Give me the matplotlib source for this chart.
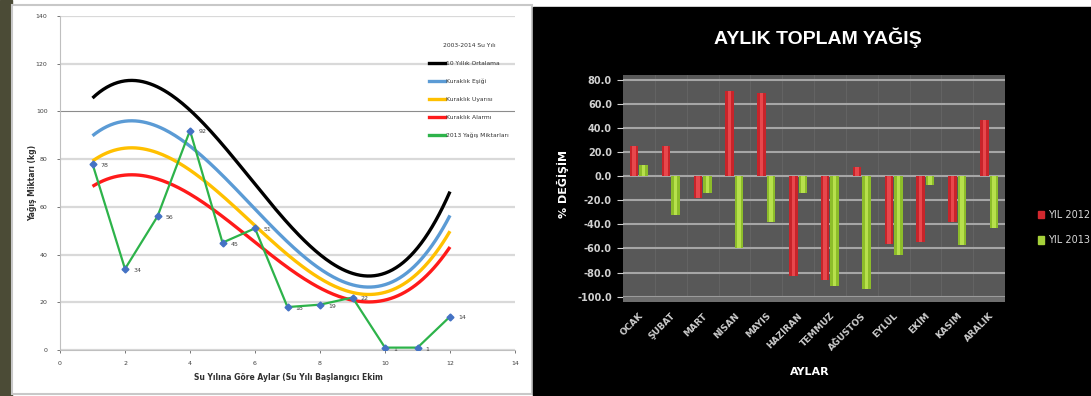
import matplotlib.pyplot as plt
import numpy as np
from matplotlib.patches import Rectangle
from matplotlib.lines import Line2D

# ---- data: left chart (su yili aylari 1..12) ----
aylar_no = [1, 2, 3, 4, 5, 6, 7, 8, 9, 10, 11, 12]
ortalama_10y = [105.6, 112.8, 110.3, 100.5, 86.1, 69.5, 53.3, 40.0, 32.1, 32.2, 42.8, 66.4]
kuraklik_esigi = [89.8, 95.9, 93.8, 85.4, 73.2, 59.1, 45.3, 34.0, 27.3, 27.4, 36.4, 56.4]
kuraklik_uyarisi = [79.2, 84.6, 82.7, 75.4, 64.6, 52.1, 40.0, 30.0, 24.1, 24.2, 32.1, 49.8]
kuraklik_alarmi = [68.6, 73.3, 71.7, 65.3, 56.0, 45.2, 34.6, 26.0, 20.9, 20.9, 27.8, 43.2]
yagis_2013 = [78, 34, 56, 92, 45, 51, 18, 19, 22, 1, 1, 14]

# ---- data: right chart ----
aylar = ["OCAK", "ŞUBAT", "MART", "NİSAN", "MAYIS", "HAZİRAN",
         "TEMMUZ", "AĞUSTOS", "EYLÜL", "EKİM", "KASIM", "ARALIK"]
yil_2012 = [25, 25, -18, 71, 69, -83, -86, 8, -56, -55, -38, 47]
yil_2013 = [9, -32, -14, -60, -38, -14, -91, -94, -65, -7, -57, -43]

W, H = 1091, 396
fig = plt.figure(figsize=(W / 100, H / 100), dpi=100)
fig.patch.set_facecolor("white")


def px(x0, y0, x1, y1):
    # pixel box (top-left origin) -> figure fraction rect
    return [x0 / W, (H - y1) / H, (x1 - x0) / W, (y1 - y0) / H]


# background panels (behind the axes)
fig.patches.append(Rectangle((0, 0), 12 / W, 1, transform=fig.transFigure,
                             color="#4b4b36", zorder=-10))
fig.patches.append(Rectangle((12 / W, 2 / H), 520 / W, 389 / H, transform=fig.transFigure,
                             facecolor="white", edgecolor="#c8c8c8", lw=1.5, zorder=-10))
fig.patches.append(Rectangle((533 / W, 0), (W - 533) / W, (H - 7) / H,
                             transform=fig.transFigure, color="black", zorder=-10))

# ================= left chart =================
ax = fig.add_axes(px(60, 16, 515, 350))
ax.set_xlim(0, 14)
ax.set_ylim(0, 140)
ax.set_xticks(np.arange(0, 15, 2))
ax.set_yticks(np.arange(0, 141, 20))
ax.grid(axis="y", color="#d9d9d9", lw=1.6)
ax.set_axisbelow(True)
for t, gl in zip(ax.get_yticks(), ax.yaxis.get_gridlines()):
    if t == 100:
        gl.set_color("#8c8c8c")
        gl.set_linewidth(0.8)
for s in ["top", "right"]:
    ax.spines[s].set_visible(False)
for s in ["left", "bottom"]:
    ax.spines[s].set_color("#bfbfbf")
    ax.spines[s].set_linewidth(0.8)
ax.tick_params(labelsize=4.5, colors="#404040", length=2, width=0.5, pad=7)
ax.tick_params(axis="x", pad=6)

xs = np.linspace(1, 12, 200)
egriler = [(ortalama_10y, "#000000", "10 Yıllık Ortalama"),
           (kuraklik_esigi, "#5b9bd5", "Kuraklık Eşiği"),
           (kuraklik_uyarisi, "#ffc000", "Kuraklık Uyarısı"),
           (kuraklik_alarmi, "#ff1a1a", "Kuraklık Alarmı")]
handles = []
for vals, c, lab in egriler:
    ys = np.polyval(np.polyfit(aylar_no, vals, 3), xs)
    ax.plot(xs, ys, color=c, lw=2.4, solid_capstyle="butt")
    handles.append(Line2D([], [], color=c, lw=2.4, label=lab))

ax.plot(aylar_no, yagis_2013, color="#2db34a", lw=1.6, marker="D", ms=3.5,
        mfc="#4472c4", mec="#4472c4", zorder=5)
handles.append(Line2D([], [], color="#2db34a", lw=2.4, label="2013 Yağış Miktarları"))
for x, y in zip(aylar_no, yagis_2013):
    ax.annotate(str(y), (x, y), xytext=(6, -1), textcoords="offset points",
                fontsize=4.5, color="#404040", va="center")

leg = ax.legend(handles=handles, loc="upper left",
                bbox_to_anchor=((426 - 60) / 455, (350 - 40) / 334),
                frameon=False, fontsize=4.3, title="2003-2014 Su Yılı",
                title_fontsize=4.3, handlelength=2.6, labelspacing=2.15,
                handletextpad=0.25, borderpad=0.0, labelcolor="#303030")
leg.get_title().set_color("#303030")
leg._legend_box.sep = 9

fig.text(33 / W, (H - 183) / H, "Yağış Miktarı (kg)", rotation=90, fontsize=5.5,
         fontweight="bold", color="#303030", ha="center", va="center")
fig.text(288 / W, (H - 377) / H, "Su Yılına Göre Aylar (Su Yılı Başlangıcı Ekim",
         fontsize=5.5, fontweight="bold", color="#303030", ha="center", va="center")

# ================= right chart =================
ax2 = fig.add_axes(px(623, 75, 1005, 301.5))
ax2.set_facecolor("#585858")
idx = np.arange(len(aylar))
ax2.set_xlim(-0.5, len(aylar) - 0.5)
ax2.set_ylim(-104, 84)
ax2.set_yticks(np.arange(-100, 81, 20))
ax2.set_yticklabels([f"{v:.1f}" for v in np.arange(-100, 81, 20)])
ax2.grid(axis="y", color="#a6a6a6", lw=1.5)
ax2.set_axisbelow(True)
for v in idx[:-1] + 0.5:
    ax2.axvline(v, color="#636363", lw=0.8, zorder=0.5)
ax2.axhspan(-104, -100, color="#6e6e6e", zorder=0.6)
for s in ax2.spines.values():
    s.set_visible(False)

w = 0.27
ax2.bar(idx - 0.15, yil_2012, width=w, color="#c8242a", zorder=3)
ax2.bar(idx - 0.15, yil_2012, width=w * 0.4, color="#e8474c", zorder=3.1)
ax2.bar(idx + 0.15, yil_2013, width=w, color="#8dbd2a", zorder=3)
ax2.bar(idx + 0.15, yil_2013, width=w * 0.4, color="#b7e04c", zorder=3.1)

ax2.set_xticks(idx)
ax2.set_xticklabels(aylar, rotation=45, ha="right", rotation_mode="anchor",
                    fontsize=6.5, fontweight="bold", color="#cccccc")
ax2.tick_params(axis="x", length=0, pad=7)
ax2.tick_params(axis="y", colors="#d0d0d0", labelsize=7, length=4, width=0.8, pad=4)
for lab in ax2.get_yticklabels():
    lab.set_fontweight("bold")

fig.text(818 / W, (H - 38) / H, "AYLIK TOPLAM YAĞIŞ", color="white", fontsize=14,
         fontweight="bold", ha="center", va="center",
         family=["Liberation Sans Narrow", "Liberation Sans", "DejaVu Sans"])
fig.text(563 / W, (H - 184) / H, "% DEĞİŞİM", rotation=90, color="white", fontsize=8,
         fontweight="bold", ha="center", va="center")
fig.text(810 / W, (H - 372) / H, "AYLAR", color="white", fontsize=8,
         fontweight="bold", ha="center", va="center")

leg2 = ax2.legend(handles=[Rectangle((0, 0), 1, 1, color="#d2282e", label="YIL 2012"),
                           Rectangle((0, 0), 1, 1, color="#a6d13a", label="YIL 2013")],
                  loc="upper left", bbox_to_anchor=(1033 / W, (H - 205) / H),
                  bbox_transform=fig.transFigure, frameon=False, fontsize=7,
                  labelcolor="#d9d9d9", handlelength=0.6, handleheight=0.8,
                  handletextpad=0.4, labelspacing=1.6, borderpad=0)

fig.savefig("out.png", dpi=100)
